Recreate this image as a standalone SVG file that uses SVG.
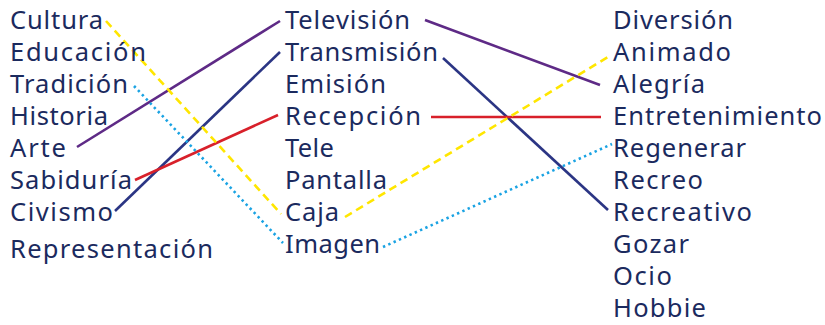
<svg xmlns="http://www.w3.org/2000/svg" width="825" height="325" viewBox="0 0 825 325">
<style>
text{font-family:"Noto Sans","Open Sans","DejaVu Sans",sans-serif;font-size:25.5px;fill:#1b2a5e}
.c{fill:none;stroke-width:2.6;stroke-linecap:butt}
.pu{stroke:#5e2a86}
.nv{stroke:#2b3584}
.rd{stroke:#d8202a}
.ye{stroke:#ffe600;stroke-dasharray:8 5}
.bl{stroke:#1aa3e3;stroke-dasharray:2.4 3.4}
</style>
<rect width="825" height="325" fill="#ffffff"/>
<g id="connectors">
<line class="c pu" x1="77" y1="147" x2="280" y2="21"/>
<line class="c pu" x1="425" y1="20" x2="600" y2="85"/>
<line class="c nv" x1="115" y1="211" x2="280" y2="52"/>
<line class="c nv" x1="443" y1="58" x2="608" y2="210"/>
<line class="c rd" x1="135" y1="180" x2="278" y2="115"/>
<line class="c rd" x1="431" y1="117" x2="601" y2="117"/>
<line class="c ye" x1="106" y1="21" x2="281" y2="214"/>
<line class="c ye" x1="345" y1="217" x2="608" y2="57"/>
<line class="c bl" x1="134" y1="86" x2="283" y2="243"/>
<line class="c bl" x1="383" y1="247" x2="612" y2="144"/>
</g>
<g id="n-cultura"><text x="10" y="29" textLength="93">Cultura</text></g>
<g id="n-educacion"><text x="10" y="61" textLength="136">Educación</text></g>
<g id="n-tradicion"><text x="10" y="93" textLength="118">Tradición</text></g>
<g id="n-historia"><text x="10" y="125" textLength="98">Historia</text></g>
<g id="n-arte"><text x="10" y="157" textLength="56">Arte</text></g>
<g id="n-sabiduria"><text x="10" y="189" textLength="122">Sabiduría</text></g>
<g id="n-civismo"><text x="10" y="221" textLength="103">Civismo</text></g>
<g id="n-representacion"><text x="10" y="258" textLength="203">Representación</text></g>
<g id="n-television"><text x="285" y="29" textLength="125">Televisión</text></g>
<g id="n-transmision"><text x="285" y="61" textLength="153">Transmisión</text></g>
<g id="n-emision"><text x="285" y="93" textLength="101">Emisión</text></g>
<g id="n-recepcion"><text x="285" y="125" textLength="136">Recepción</text></g>
<g id="n-tele"><text x="285" y="157" textLength="49">Tele</text></g>
<g id="n-pantalla"><text x="285" y="189" textLength="102">Pantalla</text></g>
<g id="n-caja"><text x="285" y="221" textLength="54">Caja</text></g>
<g id="n-imagen"><text x="285" y="253" textLength="95">Imagen</text></g>
<g id="n-diversion"><text x="613" y="29" textLength="120">Diversión</text></g>
<g id="n-animado"><text x="613" y="61" textLength="118">Animado</text></g>
<g id="n-alegria"><text x="613" y="93" textLength="92">Alegría</text></g>
<g id="n-entretenimiento"><text x="613" y="125" textLength="209">Entretenimiento</text></g>
<g id="n-regenerar"><text x="613" y="157" textLength="133">Regenerar</text></g>
<g id="n-recreo"><text x="613" y="189" textLength="90">Recreo</text></g>
<g id="n-recreativo"><text x="613" y="221" textLength="139">Recreativo</text></g>
<g id="n-gozar"><text x="613" y="253" textLength="76">Gozar</text></g>
<g id="n-ocio"><text x="613" y="285" textLength="59">Ocio</text></g>
<g id="n-hobbie"><text x="613" y="317" textLength="93">Hobbie</text></g>
</svg>
